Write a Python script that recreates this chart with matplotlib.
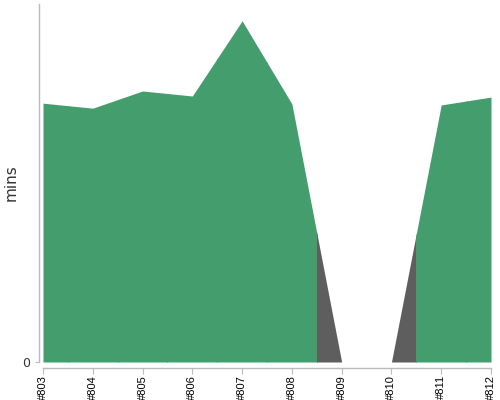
import numpy as np
import matplotlib
matplotlib.use("Agg")
import matplotlib.pyplot as plt
from matplotlib.patches import Rectangle

# build numbers, duration in minutes, result of each build
builds = [803, 804, 805, 806, 807, 808, 809, 810, 811, 812]
durations = [7.23, 7.09, 7.57, 7.43, 9.53, 7.21, 0.0, 0.0, 7.18, 7.40]
results = ['ok', 'ok', 'ok', 'ok', 'ok', 'ok', 'fail', 'fail', 'ok', 'ok']
labels = ['#%d' % b for b in builds]

green = '#449d6c'
grey = '#5e5e5e'
axis_col = '#bbbbbb'
ymax = 10.0

fig = plt.figure(figsize=(5, 4), dpi=100)
ax = fig.add_axes([43/500, 38/400, 448/500, 358/400])

x = np.array(builds, dtype=float)
y = np.array(durations)
ax.set_xlim(x[0], x[-1])
ax.set_ylim(0, ymax)

# each build owns the half step on each side of it
for b, r in zip(builds, results):
    col = green if r == 'ok' else grey
    poly = ax.fill_between(x, y, 0, color=col, linewidth=0)
    clip = Rectangle((b - 0.5, 0), 1.0, ymax, transform=ax.transData)
    poly.set_clip_path(clip)

for s in ['top', 'right']:
    ax.spines[s].set_visible(False)
ax.spines['left'].set_position(('outward', 3))
ax.spines['bottom'].set_position(('outward', 4))
for s in ['left', 'bottom']:
    ax.spines[s].set_color(axis_col)
    ax.spines[s].set_linewidth(1)

ax.set_yticks([0])
ax.set_yticklabels(['0'], fontsize=9, color='#333333')
ax.tick_params(axis='y', length=3, color=axis_col, pad=3)
ax.set_xticks(x)
ax.set_xticklabels(labels, rotation=90, fontsize=8, color='black',
                   family='Liberation Sans')
ax.tick_params(axis='x', length=4, color=axis_col, pad=1.5)
ax.set_ylabel('mins', fontsize=11, color='#333333')
ax.yaxis.set_label_coords(-0.054, 0.5)

fig.savefig('out.png', dpi=100)
